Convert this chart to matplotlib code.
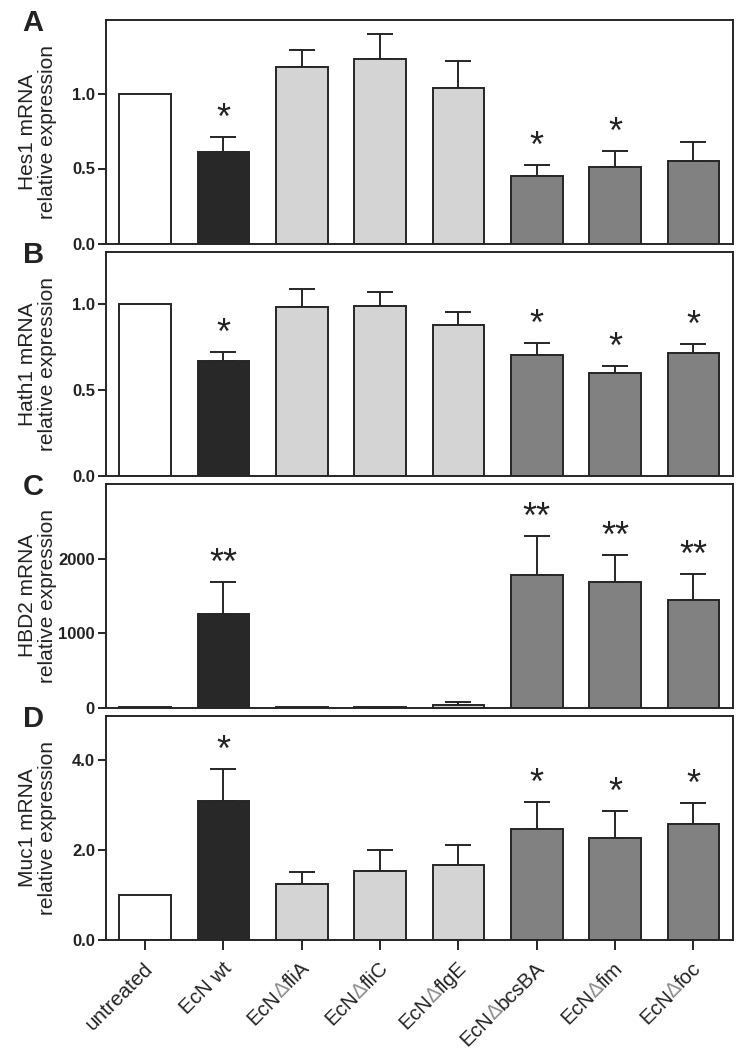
import numpy as np
import matplotlib.pyplot as plt
from matplotlib import font_manager
from matplotlib.font_manager import FontProperties

# groups (x axis)
label_pre = ['untreated', 'EcN wt', 'EcN', 'EcN', 'EcN', 'EcN', 'EcN', 'EcN']
label_mut = ['', '', 'fliA', 'fliC', 'flgE', 'bcsBA', 'fim', 'foc']

# panel A - Hes1
hes1 = [1.0, 0.61, 1.18, 1.23, 1.04, 0.45, 0.51, 0.55]
hes1_err = [0, 0.10, 0.11, 0.165, 0.18, 0.075, 0.11, 0.13]
hes1_sig = ['', '*', '', '', '', '*', '*', '']

# panel B - Hath1
hath1 = [1.0, 0.67, 0.98, 0.99, 0.88, 0.70, 0.60, 0.715]
hath1_err = [0, 0.05, 0.105, 0.08, 0.075, 0.07, 0.04, 0.05]
hath1_sig = ['', '*', '', '', '', '*', '*', '*']

# panel C - HBD2
hbd2 = [1, 1255, 1, 2, 31, 1777, 1682, 1440]
hbd2_err = [0, 430, 0, 8, 40, 525, 368, 350]
hbd2_sig = ['', '**', '', '', '', '**', '**', '**']

# panel D - Muc1
muc1 = [1.0, 3.10, 1.24, 1.54, 1.67, 2.46, 2.26, 2.57]
muc1_err = [0, 0.71, 0.26, 0.45, 0.45, 0.61, 0.61, 0.47]
muc1_sig = ['', '*', '', '', '', '*', '*', '*']

bar_colors = ['#ffffff', '#282828', '#d4d4d4', '#d4d4d4', '#d4d4d4',
              '#818181', '#818181', '#818181']
edge = '#262626'
lw = 1.4

panels = [
    ('A', 'Hes1 mRNA\nrelative expression', hes1, hes1_err, hes1_sig, 1.49, [0, 0.5, 1.0], '%.1f'),
    ('B', 'Hath1 mRNA\nrelative expression', hath1, hath1_err, hath1_sig, 1.30, [0, 0.5, 1.0], '%.1f'),
    ('C', 'HBD2 mRNA\nrelative expression', hbd2, hbd2_err, hbd2_sig, 3005, [0, 1000, 2000], '%d'),
    ('D', 'Muc1 mRNA\nrelative expression', muc1, muc1_err, muc1_sig, 4.99, [0, 2.0, 4.0], '%.1f'),
]


def first_font(names):
    for n in names:
        try:
            font_manager.findfont(FontProperties(family=n, weight='bold'), fallback_to_default=False)
            return n
        except ValueError:
            pass
    return None


narrow = first_font(['Liberation Sans Narrow', 'DejaVu Sans Condensed', 'Arial Narrow'])
if narrow:
    tick_font, tick_size = [narrow, 'Liberation Sans'], 14
else:
    tick_font, tick_size = ['Liberation Sans', 'DejaVu Sans'], 12
text_font = ['Liberation Sans', 'DejaVu Sans']

W, H = 738, 1052
fig = plt.figure(figsize=(W / 100, H / 100), dpi=100)

left, right = 106, 732.5
tops = [20, 252.3, 484, 716]
ax_h = 223.5

x = np.arange(len(label_pre))
axes = []
for k, (letter, ylab, vals, errs, sig, ymax, yt, fmt) in enumerate(panels):
    ax = fig.add_axes([left / W, 1 - (tops[k] + ax_h) / H, (right - left) / W, ax_h / H])
    axes.append(ax)
    ax.bar(x, vals, width=0.66, color=bar_colors, edgecolor=edge, linewidth=lw, zorder=2)
    vals = np.array(vals, dtype=float)
    errs = np.array(errs, dtype=float)
    m = errs > 0
    ax.errorbar(x[m], vals[m], yerr=[np.zeros(m.sum()), errs[m]], fmt='none',
                ecolor=edge, elinewidth=lw, capsize=9.4, capthick=lw, zorder=1)
    for i, s in enumerate(sig):
        if s:
            ax.annotate(s, xy=(i, vals[i] + errs[i]), xytext=(0, 8), textcoords='offset pixels',
                        ha='center', va='baseline', fontsize=26, color='#222222',
                        family=text_font)
    ax.set_xlim(-0.5, 7.5)
    ax.set_ylim(0, ymax)
    ax.set_yticks(yt)
    ax.set_yticklabels([fmt % v for v in yt], fontsize=tick_size, fontweight='bold',
                       family=tick_font, color='#222222')
    ax.tick_params(axis='y', direction='out', length=6, width=lw, pad=2, color=edge)
    if k < 3:
        ax.set_xticks([])
    else:
        ax.set_xticks(x)
        ax.set_xticklabels([])
        ax.tick_params(axis='x', direction='out', length=7, width=lw, color=edge)
    for sp in ax.spines.values():
        sp.set_linewidth(lw)
        sp.set_color(edge)
    ax.set_ylabel(ylab, fontsize=15, family=text_font, linespacing=1.05, color='#222222')
    ax.yaxis.set_label_coords(-0.079, 0.5)
    ax.text(-0.133, 0.95, letter, transform=ax.transAxes, fontsize=21, fontweight='bold',
            family=text_font, ha='left', va='baseline', color='#222222')

# x labels for bottom panel, with grey delta
ax = axes[-1]
fig.canvas.draw()
renderer = fig.canvas.get_renderer()
fp = FontProperties(family=text_font, size=14.8)
c = s = np.sqrt(0.5)
end_dx, end_dy = 9, -30
for i, (pre, mut) in enumerate(zip(label_pre, label_mut)):
    parts = [(pre, '#222222')]
    if mut:
        parts = [(pre, '#222222'), ('\u2206', '#8c8c8c'), (mut, '#222222')]
    shift = 0.0
    for txt, col in reversed(parts):
        ax.annotate(txt, xy=(i, 0), xycoords=ax.get_xaxis_transform(),
                    xytext=(end_dx - shift * c, end_dy - shift * s), textcoords='offset pixels',
                    rotation=45, rotation_mode='anchor', ha='right', va='baseline',
                    fontproperties=fp, color=col, annotation_clip=False)
        w, h, d = renderer.get_text_width_height_descent(txt, fp, ismath=False)
        shift += w

fig.savefig('out.png', dpi=100)
